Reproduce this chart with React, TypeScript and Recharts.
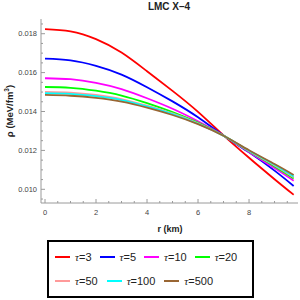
import { Line, LineChart, XAxis, YAxis } from "recharts";

// radius (km) and density rho (MeV/fm^3), one array per tau
const R = [0, 1, 2, 3, 4, 5, 6, 7, 8, 9, 9.75];
const TAU3 = [0.01824, 0.01812, 0.01772, 0.01703, 0.01607, 0.01506, 0.01398, 0.01277, 0.01162, 0.01052, 0.00972];
const TAU5 = [0.01672, 0.01663, 0.01635, 0.0159, 0.01525, 0.01452, 0.01370, 0.01276, 0.0119, 0.01096, 0.01017];
const TAU10 = [0.01571, 0.01566, 0.01547, 0.01515, 0.01468, 0.01414, 0.01350, 0.01277, 0.01192, 0.01109, 0.01044];
const TAU20 = [0.01526, 0.01522, 0.01507, 0.01482, 0.01443, 0.01397, 0.01343, 0.01276, 0.01196, 0.01118, 0.01056];
const TAU50 = [0.01501, 0.01497, 0.01485, 0.01464, 0.0143, 0.0139, 0.01339, 0.01275, 0.01197, 0.01123, 0.01062];
const TAU100 = [0.01495, 0.01491, 0.01479, 0.01459, 0.01426, 0.01387, 0.01337, 0.01275, 0.01199, 0.01126, 0.01066];
const TAU500 = [0.01485, 0.01481, 0.0147, 0.01451, 0.0142, 0.01382, 0.01335, 0.01275, 0.01201, 0.01130, 0.01074];

const X_MAJOR = [0, 2, 4, 6, 8];
const X_TICKS = [0, 0.5, 1, 1.5, 2, 2.5, 3, 3.5, 4, 4.5, 5, 5.5, 6, 6.5, 7, 7.5, 8, 8.5, 9, 9.5];
const Y_MAJOR = [0.01, 0.012, 0.014, 0.016, 0.018];
const Y_TICKS = [0.0095, 0.01, 0.0105, 0.011, 0.0115, 0.012, 0.0125, 0.013, 0.0135, 0.014, 0.0145, 0.015, 0.0155, 0.016, 0.0165, 0.017, 0.0175, 0.018, 0.0185];

const SERIES = [
  { key: "t3", tau: "3", color: "#ff0000", values: TAU3 },
  { key: "t5", tau: "5", color: "#0000ff", values: TAU5 },
  { key: "t10", tau: "10", color: "#ff00ff", values: TAU10 },
  { key: "t20", tau: "20", color: "#00ff00", values: TAU20 },
  { key: "t50", tau: "50", color: "#ff9a9a", values: TAU50 },
  { key: "t100", tau: "100", color: "#00ffff", values: TAU100 },
  { key: "t500", tau: "500", color: "#996633", values: TAU500 },
];

const data = R.map((r, i) => {
  const row: Record<string, number> = { r };
  for (const s of SERIES) row[s.key] = s.values[i];
  return row;
});

const FRAME = "#9a9a9a";
const TXT = "#444";
const SANS = "'Liberation Sans', Arial, sans-serif";
const LEFT = 41;
const RIGHT = 298;
const TOP = 19;
const BOTTOM = 203;

const isMajor = (list: number[], v: number) => list.some(m => Math.abs(m - v) < 1e-7);

function BottomTick({ x, payload }: any) {
  const major = isMajor(X_MAJOR, payload.value);
  return (
    <g>
      <line x1={x} x2={x} y1={BOTTOM} y2={BOTTOM - (major ? 4 : 2)} stroke={FRAME} />
      {major && (
        <text x={x} y={BOTTOM + 12} textAnchor="middle" fontSize={7.5} fill={TXT} fontFamily={SANS}>
          {payload.value}
        </text>
      )}
    </g>
  );
}

function TopTick({ x, payload }: any) {
  const major = isMajor(X_MAJOR, payload.value);
  return <line x1={x} x2={x} y1={TOP} y2={TOP + (major ? 4 : 2)} stroke={FRAME} />;
}

function LeftTick({ y, payload }: any) {
  const major = isMajor(Y_MAJOR, payload.value);
  return (
    <g>
      <line x1={LEFT} x2={LEFT + (major ? 4 : 2)} y1={y} y2={y} stroke={FRAME} />
      {major && (
        <text x={LEFT - 4} y={y + 2.7} textAnchor="end" fontSize={7.5} fill={TXT} fontFamily={SANS}>
          {payload.value.toFixed(3)}
        </text>
      )}
    </g>
  );
}

function RightTick({ y, payload }: any) {
  const major = isMajor(Y_MAJOR, payload.value);
  return <line x1={RIGHT} x2={RIGHT - (major ? 4 : 2)} y1={y} y2={y} stroke={FRAME} />;
}

function LegendItem({ tau, color }: { tau: string; color: string }) {
  return (
    <div style={{ display: "flex", alignItems: "center", gap: 5 }}>
      <i style={{ display: "block", width: 15, height: 2, background: color }} />
      <span style={{ fontSize: 11, fontFamily: SANS, color: "#222", lineHeight: "12px" }}>
        <span style={{ fontFamily: "'Liberation Serif', serif", fontStyle: "italic" }}>τ</span>={tau}
      </span>
    </div>
  );
}

export default function App() {
  return (
    <div style={{ position: "absolute", left: 0, top: 0, width: 300, height: 300, background: "#fff" }}>
      <div style={{ position: "absolute", left: 119, top: 1, width: 100, textAlign: "center", fontSize: 10, fontWeight: "bold", fontFamily: SANS, color: "#222", lineHeight: "12px" }}>
        LMC X–4
      </div>
      <LineChart width={300} height={300} data={data} margin={{ top: TOP, right: 300 - RIGHT, bottom: 77, left: 0 }}>
        <XAxis xAxisId="bottom" dataKey="r" type="number" domain={[-0.157, 9.92]} ticks={X_TICKS} interval={0} height={20} stroke={FRAME} tickLine={false} tick={<BottomTick />} allowDataOverflow />
        <XAxis xAxisId="top" orientation="top" dataKey="r" type="number" domain={[-0.157, 9.92]} ticks={X_TICKS} interval={0} height={0} stroke={FRAME} tickLine={false} tick={<TopTick />} allowDataOverflow />
        <YAxis yAxisId="left" type="number" domain={[0.009296, 0.018756]} ticks={Y_TICKS} interval={0} width={LEFT} stroke={FRAME} tickLine={false} tick={<LeftTick />} allowDataOverflow />
        <YAxis yAxisId="right" orientation="right" type="number" domain={[0.009296, 0.018756]} ticks={Y_TICKS} interval={0} width={0} stroke={FRAME} tickLine={false} tick={<RightTick />} allowDataOverflow />
        <Line xAxisId="top" yAxisId="right" dataKey="t3" stroke="none" dot={false} activeDot={false} isAnimationActive={false} />
        {SERIES.map(s => (
          <Line key={s.key} xAxisId="bottom" yAxisId="left" type="natural" dataKey={s.key} stroke={s.color} strokeWidth={1.8} dot={false} activeDot={false} isAnimationActive={false} />
        ))}
      </LineChart>
      <div style={{ position: "absolute", left: -30, top: 105, width: 80, height: 12, transform: "rotate(-90deg)", textAlign: "center", fontSize: 9.5, fontWeight: "bold", fontFamily: SANS, color: "#222", lineHeight: "12px", whiteSpace: "nowrap" }}>
        ρ (MeV/fm<sup style={{ fontSize: 6.5, lineHeight: 0 }}>3</sup>)
      </div>
      <div style={{ position: "absolute", left: 120, top: 223, width: 100, textAlign: "center", fontSize: 9, fontWeight: "bold", fontFamily: SANS, color: "#222", lineHeight: "12px" }}>
        r (km)
      </div>
      <div style={{ position: "absolute", left: 47, top: 240, width: 207, height: 58, boxSizing: "border-box", border: "2px solid #000", paddingLeft: 6 }}>
        <div style={{ display: "flex", gap: 8, marginTop: 9 }}>
          {SERIES.slice(0, 4).map(s => <LegendItem key={s.key} tau={s.tau} color={s.color} />)}
        </div>
        <div style={{ display: "flex", gap: 9, marginTop: 12 }}>
          {SERIES.slice(4).map(s => <LegendItem key={s.key} tau={s.tau} color={s.color} />)}
        </div>
      </div>
    </div>
  );
}
